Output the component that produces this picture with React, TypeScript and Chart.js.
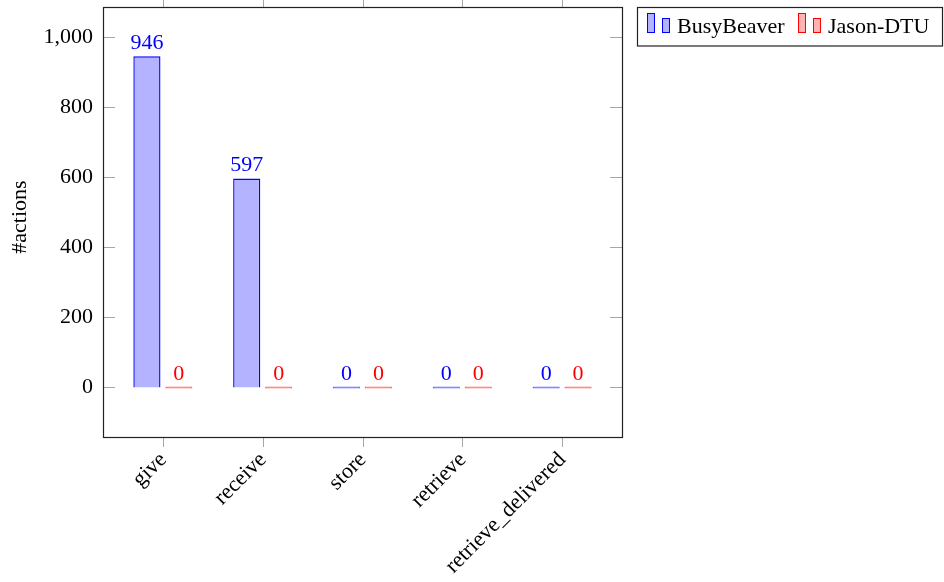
import React, { useEffect, useRef } from "react";
import { Chart, registerables } from "chart.js";

Chart.register(...registerables);

const categories = ["give", "receive", "store", "retrieve", "retrieve_delivered"];
const busyBeaver = [946, 597, 0, 0, 0];
const jasonDTU = [0, 0, 0, 0, 0];
const seriesNames = ["BusyBeaver", "Jason-DTU"];
const yTickValues = [0, 200, 400, 600, 800, 1000];
const yTitle = "#actions";

const FONT = "'Liberation Serif', 'Times New Roman', serif";
const FS = 22;
const BLUE = "rgb(0,0,255)";
const RED = "rgb(255,0,0)";
const BLUE_FILL = "rgb(179,179,255)";
const RED_FILL = "rgb(255,179,179)";
const TICK_GRAY = "rgba(0,0,0,0.35)";
const LEGEND_X = [647, 798];

const decorPlugin = {
  id: "decor",
  afterDatasetsDraw(chart: any) {
    const ctx = chart.ctx;
    const y = chart.scales.y;
    ctx.save();
    ctx.font = `${FS}px ${FONT}`;
    ctx.textAlign = "center";
    ctx.textBaseline = "alphabetic";
    chart.data.datasets.forEach((ds: any, di: number) => {
      const meta = chart.getDatasetMeta(di);
      ctx.fillStyle = di === 0 ? BLUE : RED;
      meta.data.forEach((el: any, i: number) => {
        const v = ds.data[i].y;
        const py = y.getPixelForValue(v);
        ctx.fillText(String(v), el.x, py - 7.5);
      });
    });
    ctx.restore();
  },
  afterDraw(chart: any) {
    const ctx = chart.ctx;
    const a = chart.chartArea;
    const xs = chart.scales.x;
    const ys = chart.scales.y;
    ctx.save();
    // tick marks
    ctx.strokeStyle = TICK_GRAY;
    ctx.lineWidth = 1;
    ctx.beginPath();
    yTickValues.forEach((v) => {
      const p = Math.round(ys.getPixelForValue(v)) + 0.5;
      ctx.moveTo(a.left, p);
      ctx.lineTo(a.left + 12, p);
      ctx.moveTo(a.right - 12, p);
      ctx.lineTo(a.right, p);
    });
    categories.forEach((_, i) => {
      const p = Math.round(xs.getPixelForValue(i)) + 0.5;
      ctx.moveTo(p, a.bottom);
      ctx.lineTo(p, a.bottom + 10);
      ctx.moveTo(p, a.top);
      ctx.lineTo(p, a.top - 7);
    });
    ctx.stroke();
    // border
    ctx.strokeStyle = "#222";
    ctx.lineWidth = 1.2;
    ctx.strokeRect(Math.round(a.left) + 0.5, Math.round(a.top) + 0.5, Math.round(a.right - a.left), Math.round(a.bottom - a.top));

    // x tick labels (rotated 45°)
    ctx.fillStyle = "#000";
    ctx.font = `${FS}px ${FONT}`;
    ctx.textAlign = "right";
    ctx.textBaseline = "alphabetic";
    categories.forEach((lab, i) => {
      const p = xs.getPixelForValue(i);
      ctx.save();
      ctx.translate(p + 4.5, a.bottom + 23.5);
      ctx.rotate(-Math.PI / 4);
      ctx.fillText(lab, 0, 0);
      ctx.restore();
    });

    // y title
    ctx.save();
    ctx.translate(20, 217);
    ctx.rotate(-Math.PI / 2);
    ctx.textAlign = "center";
    ctx.textBaseline = "middle";
    ctx.fillText(yTitle, 0, 0);
    ctx.restore();
    ctx.restore();

    // legend
    ctx.save();
    ctx.strokeStyle = "#222";
    ctx.lineWidth = 1.2;
    ctx.strokeRect(637.5, 7.5, 305, 38.5);
    ctx.font = `${FS}px ${FONT}`;
    ctx.textBaseline = "alphabetic";
    ctx.textAlign = "left";
    seriesNames.forEach((name, i) => {
      const lx = LEGEND_X[i];
      const stroke = i === 0 ? BLUE : RED;
      const fill = i === 0 ? BLUE_FILL : RED_FILL;
      ctx.lineWidth = 1;
      ctx.fillStyle = fill;
      ctx.strokeStyle = stroke;
      ctx.fillRect(lx + 0.5, 13.5, 7, 19);
      ctx.strokeRect(lx + 0.5, 13.5, 7, 19);
      ctx.fillRect(lx + 15.5, 18.5, 7, 14);
      ctx.strokeRect(lx + 15.5, 18.5, 7, 14);
      ctx.fillStyle = "#000";
      ctx.fillText(name, lx + 30, 33);
    });
    ctx.restore();
  },
};

export default function App() {
  const ref = useRef<HTMLCanvasElement | null>(null);
  useEffect(() => {
    if (!ref.current) return;
    const zeroColor = (solid: string, faded: string) => (c: any) =>
      c.raw && c.raw.y === 0 ? faded : solid;
    const chart = new Chart(ref.current, {
      type: "bar",
      data: {
        datasets: [
          {
            label: seriesNames[0],
            data: busyBeaver.map((v, i) => ({ x: i, y: v })),
            backgroundColor: zeroColor(BLUE_FILL, "rgb(100,100,255)"),
            borderColor: zeroColor(BLUE, "rgb(100,100,255)"),
            borderWidth: 1.4,
            minBarLength: 2,
          },
          {
            label: seriesNames[1],
            data: jasonDTU.map((v, i) => ({ x: i, y: v })),
            backgroundColor: zeroColor(RED_FILL, "rgb(255,100,100)"),
            borderColor: zeroColor(RED, "rgb(255,100,100)"),
            borderWidth: 1.4,
            minBarLength: 2,
          },
        ],
      },
      options: {
        animation: false,
        responsive: false,
        maintainAspectRatio: false,
        layout: { padding: { left: 0, top: 7, right: 322, bottom: 0 } },
        datasets: { bar: { categoryPercentage: 0.64, barPercentage: 0.85 } },
        plugins: { legend: { display: false }, tooltip: { enabled: false } },
        scales: {
          x: {
            type: "linear",
            min: -0.6,
            max: 4.6,
            offset: false,
            grid: { display: false, drawTicks: false },
            border: { display: false },
            afterBuildTicks: (s: any) => {
              s.ticks = categories.map((_, i) => ({ value: i }));
            },
            afterFit: (s: any) => {
              s.height = 582 - 437;
              s.paddingLeft = 0;
              s.paddingRight = 0;
            },
            ticks: { display: false },
          },
          y: {
            type: "linear",
            min: -141.5,
            max: 1087,
            grid: { display: false, drawTicks: false, tickLength: 0 },
            border: { display: false },
            afterBuildTicks: (s: any) => {
              s.ticks = yTickValues.map((v) => ({ value: v }));
            },
            afterFit: (s: any) => {
              s.width = 103;
              s.paddingTop = 0;
              s.paddingBottom = 0;
            },
            ticks: {
              padding: 10,
              color: "#000",
              font: { family: FONT, size: FS },
              callback: (v: any) => Number(v).toLocaleString("en-US"),
            },
          },
        },
      },
      plugins: [decorPlugin],
    } as any);
    return () => chart.destroy();
  }, []);
  return (
    <div style={{ position: "fixed", left: 0, top: 0, width: 944, height: 582, background: "#fff" }}>
      <canvas ref={ref} width={944} height={582} style={{ display: "block", width: 944, height: 582 }} />
    </div>
  );
}
